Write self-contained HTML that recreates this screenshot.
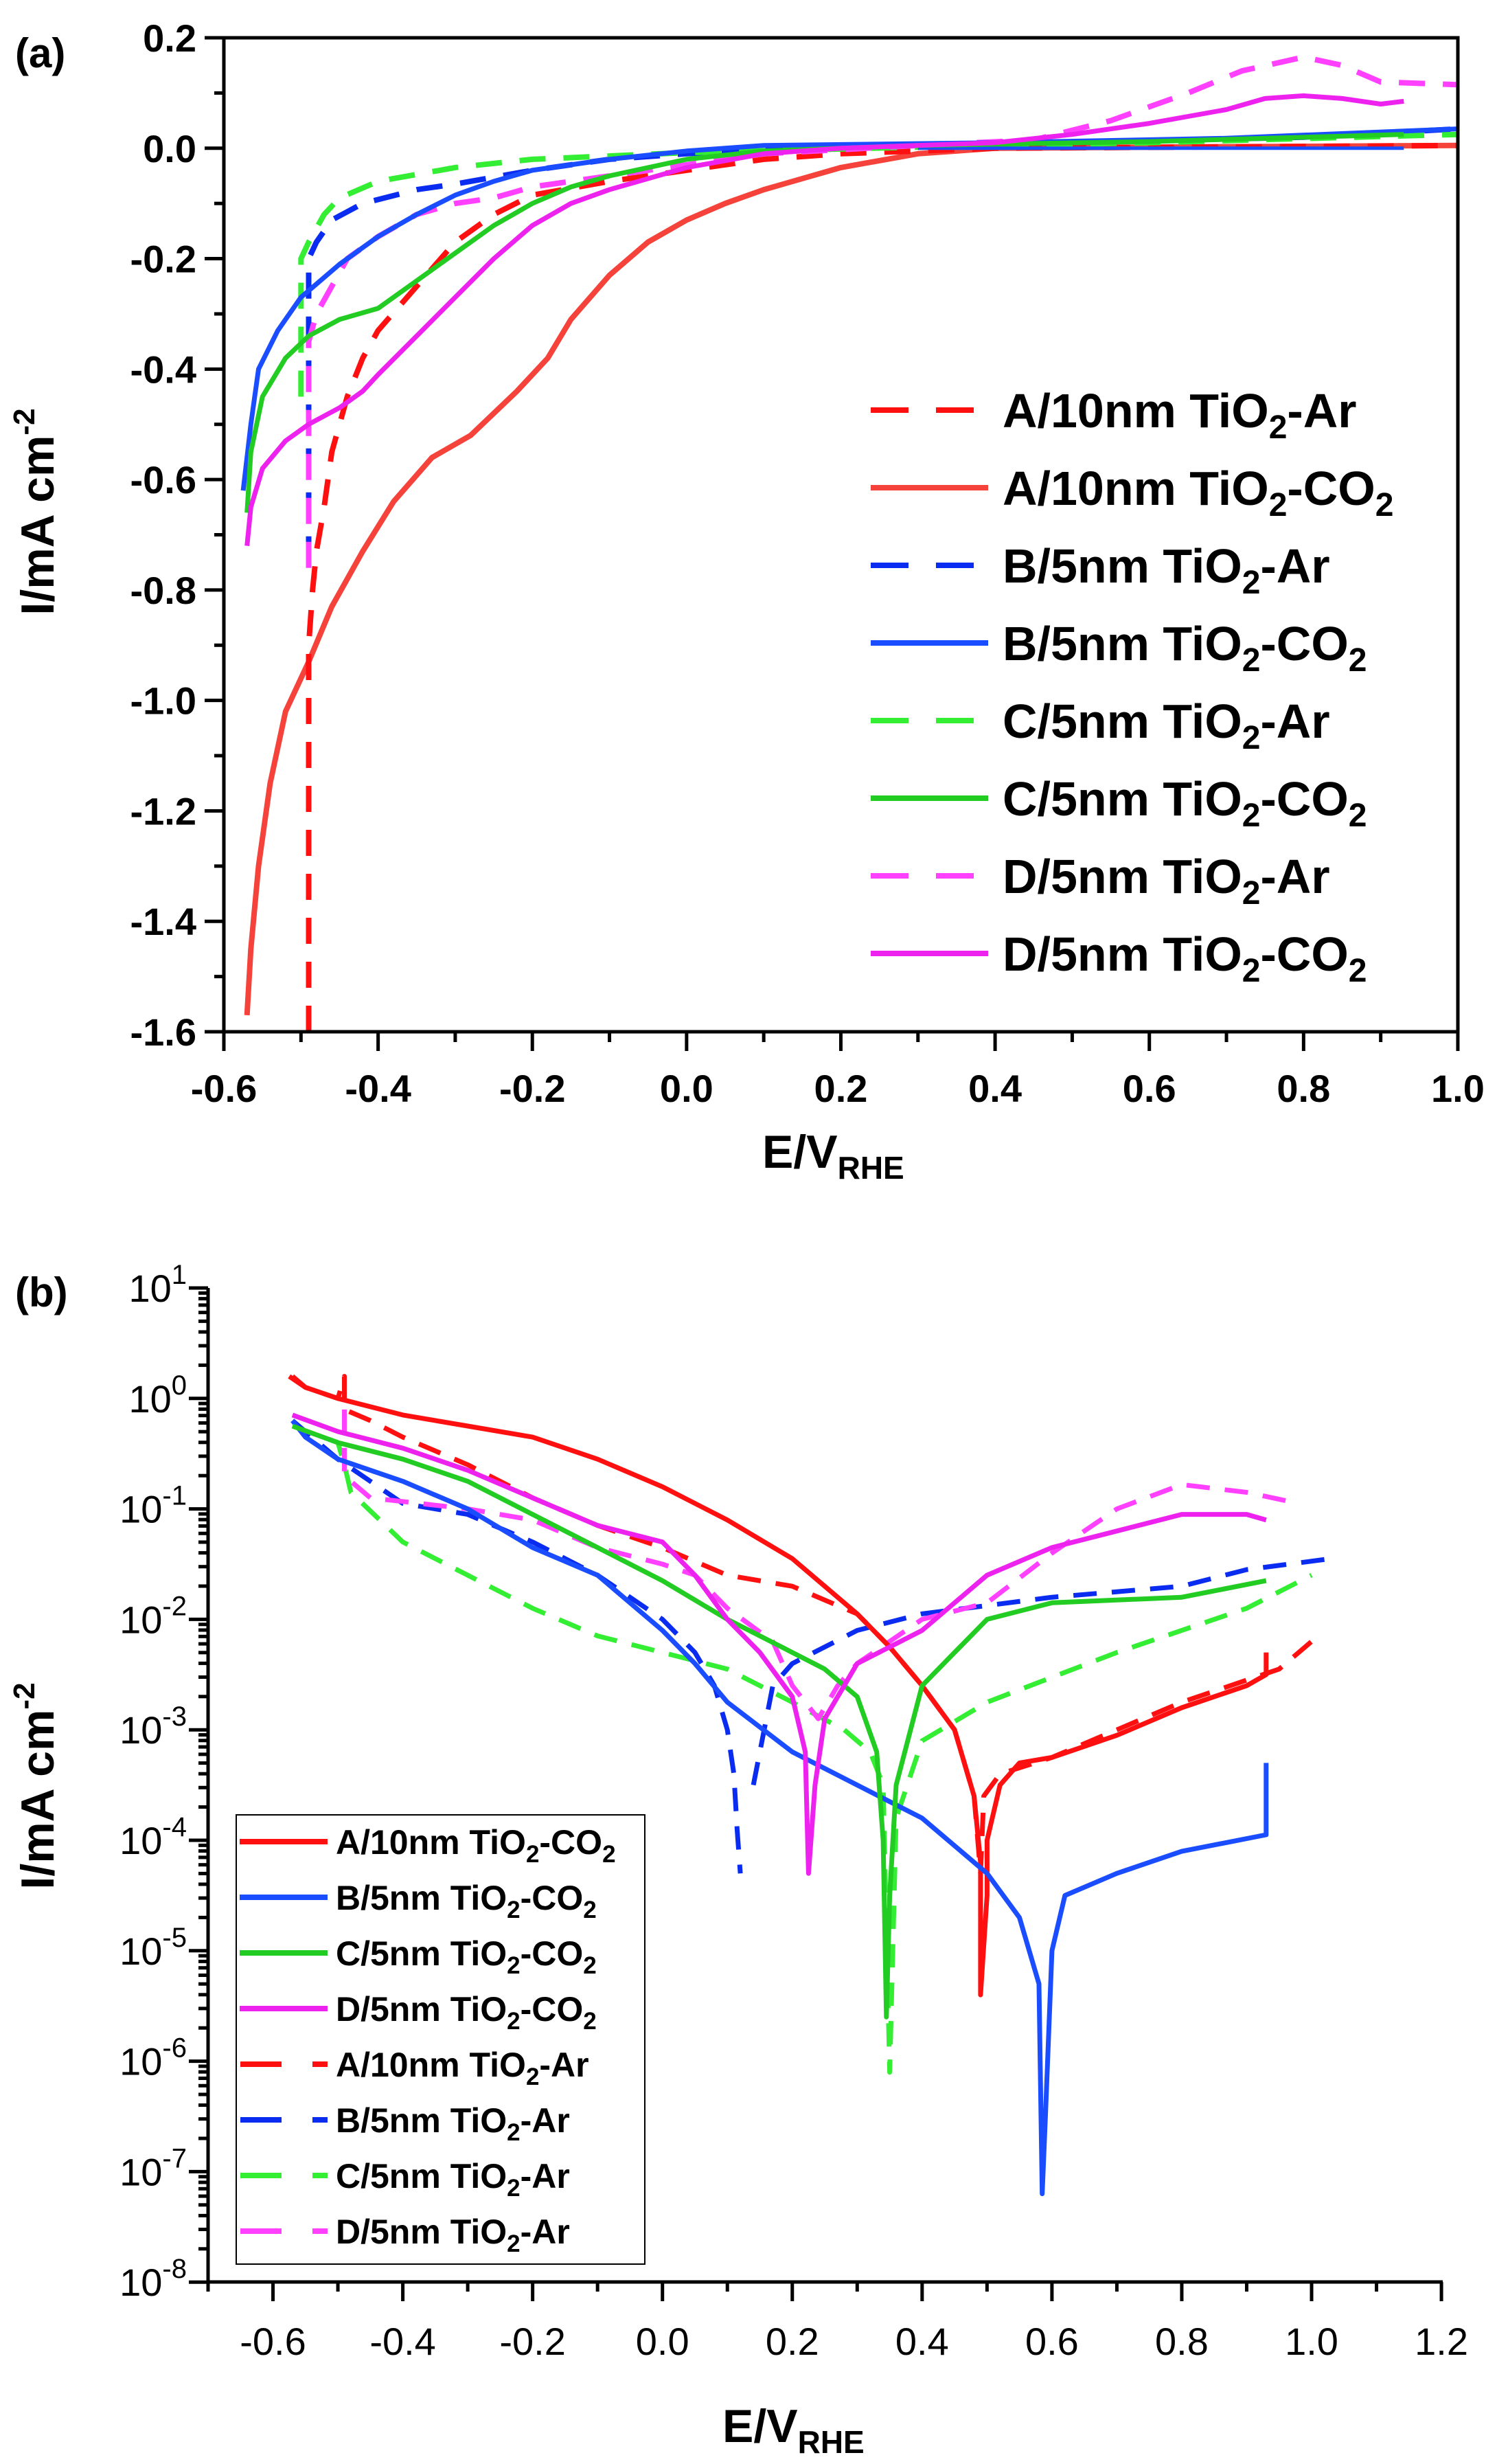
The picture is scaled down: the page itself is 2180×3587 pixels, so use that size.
<!DOCTYPE html>
<html><head><meta charset="utf-8">
<style>
html,body{margin:0;padding:0;background:#fff;}
svg{display:block;}
text{font-family:"Liberation Sans",Arial,sans-serif;fill:#000;}
</style></head>
<body>
<svg id="s" width="2180" height="3587" viewBox="0 0 2180 3587" xmlns="http://www.w3.org/2000/svg">
<text x="22" y="98" font-size="60" font-weight="bold">(a)</text>
<text x="22" y="1902" font-size="60" font-weight="bold">(b)</text>
<text transform="translate(78,745) rotate(-90)" font-size="68" font-weight="bold" text-anchor="middle">I/mA cm<tspan dy="-28" font-size="44">-2</tspan></text>
<text x="1110" y="1700" font-size="68" font-weight="bold">E/V<tspan dy="16" font-size="46">RHE</tspan></text>
<text transform="translate(78,2600) rotate(-90)" font-size="68" font-weight="bold" text-anchor="middle">I/mA cm<tspan dy="-28" font-size="44">-2</tspan></text>
<text x="1052" y="3555" font-size="68" font-weight="bold">E/V<tspan dy="16" font-size="46">RHE</tspan></text>
<g id="g"></g>
</svg>
<script>
var g=document.getElementById('g'),NS='http://www.w3.org/2000/svg',out='';
function ln(x1,y1,x2,y2,w){out+='<line x1="'+x1+'" y1="'+y1+'" x2="'+x2+'" y2="'+y2+'" stroke="#000" stroke-width="'+(w||5)+'"/>';}
function tx(x,y,s,sz,anc,bold){out+='<text x="'+x+'" y="'+y+'" font-size="'+sz+'" text-anchor="'+anc+'"'+(bold?' font-weight="bold"':'')+'>'+s+'</text>';}
// ---- Plot A ----
var AX=function(v){return 326+(v+0.6)*1123.1;},AY=function(i){return 55+(0.2-i)*803.9;};
var A_L=326,A_R=2123,A_T=55,A_B=1502;
function pathA(pts,col,dash,w){var d='';pts.forEach(function(p,k){d+=(k?'L':'M')+AX(p[0]).toFixed(1)+' '+AY(p[1]).toFixed(1);});
out+='<path d="'+d+'" fill="none" stroke="'+col+'" stroke-width="'+(w||8)+'" stroke-linejoin="round"'+(dash?' stroke-dasharray="'+dash+'"':'')+'/>';}
var redS='#f5423a',red='#ff1010',blu='#1a4dff',bluD='#0a2cf0',grn='#22cc22',grnD='#33ee33',mag='#ee22ee',magD='#ff40ff';
var dA='38 26';
pathA([[-0.57,-1.57],[-0.565,-1.45],[-0.555,-1.3],[-0.54,-1.15],[-0.52,-1.02],[-0.49,-0.93],[-0.46,-0.83],[-0.42,-0.73],[-0.38,-0.64],[-0.33,-0.56],[-0.28,-0.52],[-0.22,-0.44],[-0.18,-0.38],[-0.15,-0.31],[-0.1,-0.23],[-0.05,-0.17],[0,-0.13],[0.05,-0.1],[0.1,-0.075],[0.2,-0.035],[0.3,-0.01],[0.4,0],[0.6,0.002],[1.0,0.005]],redS);
pathA([[-0.49,-1.6],[-0.49,-0.9],[-0.485,-0.8],[-0.48,-0.73],[-0.47,-0.65],[-0.46,-0.55],[-0.44,-0.45],[-0.42,-0.38],[-0.4,-0.33],[-0.35,-0.25],[-0.3,-0.17],[-0.25,-0.12],[-0.2,-0.085],[-0.1,-0.06],[0,-0.04],[0.1,-0.02],[0.2,-0.01],[0.4,0],[1.0,0.005]],red,dA);
pathA([[-0.49,-0.75],[-0.49,-0.2],[-0.48,-0.17],[-0.46,-0.13],[-0.42,-0.1],[-0.35,-0.075],[-0.3,-0.065],[-0.2,-0.04],[-0.1,-0.02],[0,-0.01],[0.2,0.005],[0.5,0.01],[0.8,0.02],[1.0,0.035]],bluD,dA);
pathA([[-0.5,-0.45],[-0.5,-0.2],[-0.49,-0.17],[-0.47,-0.12],[-0.45,-0.09],[-0.4,-0.06],[-0.3,-0.035],[-0.2,-0.02],[0,-0.008],[0.3,0.002],[0.6,0.01],[1.0,0.025]],grnD,dA);
pathA([[-0.49,-0.76],[-0.49,-0.35],[-0.48,-0.3],[-0.46,-0.25],[-0.44,-0.2],[-0.4,-0.16],[-0.35,-0.12],[-0.3,-0.1],[-0.25,-0.09],[-0.2,-0.07],[-0.1,-0.05],[0,-0.03],[0.1,-0.01],[0.3,0.005],[0.45,0.015],[0.55,0.05],[0.65,0.1],[0.72,0.14],[0.8,0.165],[0.85,0.15],[0.9,0.12],[1.0,0.115]],magD,dA);
pathA([[-0.575,-0.62],[-0.565,-0.5],[-0.555,-0.4],[-0.53,-0.33],[-0.5,-0.27],[-0.45,-0.21],[-0.4,-0.16],[-0.35,-0.12],[-0.3,-0.085],[-0.25,-0.06],[-0.2,-0.04],[-0.1,-0.02],[0,-0.005],[0.1,0.005],[0.4,0.01],[0.7,0.018],[1.0,0.035]],blu,null,7);
pathA([[0.3,0.0],[0.93,0.0]],blu,null,5);
pathA([[-0.57,-0.66],[-0.565,-0.55],[-0.55,-0.45],[-0.52,-0.38],[-0.49,-0.34],[-0.45,-0.31],[-0.4,-0.29],[-0.35,-0.24],[-0.3,-0.19],[-0.25,-0.14],[-0.2,-0.1],[-0.15,-0.07],[-0.1,-0.05],[0,-0.02],[0.1,-0.005],[0.3,0.005],[0.6,0.012],[0.93,0.025]],grn,null,7);
pathA([[-0.57,-0.72],[-0.565,-0.65],[-0.55,-0.58],[-0.52,-0.53],[-0.49,-0.5],[-0.45,-0.47],[-0.42,-0.44],[-0.4,-0.41],[-0.35,-0.34],[-0.3,-0.27],[-0.25,-0.2],[-0.2,-0.14],[-0.15,-0.1],[-0.1,-0.075],[-0.05,-0.055],[0,-0.035],[0.1,-0.01],[0.2,0],[0.4,0.01],[0.5,0.025],[0.6,0.045],[0.7,0.07],[0.75,0.09],[0.8,0.095],[0.85,0.09],[0.9,0.08],[0.93,0.085]],mag,null,7);
// frame A
out+='<rect x="'+A_L+'" y="'+A_T+'" width="'+(A_R-A_L)+'" height="'+(A_B-A_T)+'" fill="none" stroke="#000" stroke-width="5"/>';
for(var k=0;k<=18;k++){var v=0.2-k*0.1,y=AY(v);ln(A_L-(k%2?14:28),y,A_L,y);
 if(k%2==0){var s=(Math.abs(v)<1e-9?'0.0':v.toFixed(1));tx(286,y+20,s,56,'end',true);}}
for(var k=0;k<=16;k++){var v=-0.6+k*0.1,x=AX(v);ln(x,A_B,x,A_B+(k%2?15:28));
 if(k%2==0){var s=(Math.abs(v)<1e-9?'0.0':v.toFixed(1));tx(x,1604,s,56,'middle',true);}}
// legend A
var legA=[['A/10nm TiO','-Ar',red,dA],['A/10nm TiO','-CO',redS,null],['B/5nm TiO','-Ar',bluD,dA],['B/5nm TiO','-CO',blu,null],['C/5nm TiO','-Ar',grnD,dA],['C/5nm TiO','-CO',grn,null],['D/5nm TiO','-Ar',magD,dA],['D/5nm TiO','-CO',mag,null]];
legA.forEach(function(e,k){var y=597+k*113;
 out+='<line x1="1268" y1="'+y+'" x2="1439" y2="'+y+'" stroke="'+e[2]+'" stroke-width="8"'+(e[3]?' stroke-dasharray="55 40"':'')+'/>';
 out+='<text x="1460" y="'+(y+25)+'" font-size="70" font-weight="bold">'+e[0]+'<tspan dy="16" font-size="48">2</tspan><tspan dy="-16">'+e[1]+'</tspan>'+(e[1]=='-CO'?'<tspan dy="16" font-size="48">2</tspan>':'')+'</text>';});
// ---- Plot B ----
var BX=function(v){return 303+(v+0.7)*945.3;},BY=function(l){return 1875+(1-l)*160.8;};
var B_L=303,B_R=2099,B_T=1875,B_B=3322;
function pathB(pts,col,dash,w){var d='';pts.forEach(function(p,k){d+=(k?'L':'M')+BX(p[0]).toFixed(1)+' '+BY(p[1]).toFixed(1);});
out+='<path d="'+d+'" fill="none" stroke="'+col+'" stroke-width="'+(w||7)+'" stroke-linejoin="round"'+(dash?' stroke-dasharray="'+dash+'"':'')+'/>';}
var dB='34 22';
pathB([[-0.575,0.2],[-0.55,0.1],[-0.5,0],[-0.49,0.2],[-0.49,-0.1],[-0.45,-0.2],[-0.4,-0.35],[-0.3,-0.6],[-0.2,-0.9],[-0.1,-1.15],[0,-1.35],[0.1,-1.6],[0.2,-1.7],[0.3,-1.95],[0.35,-2.25],[0.4,-2.6],[0.45,-3.0],[0.48,-3.6],[0.49,-4.3],[0.495,-3.6],[0.52,-3.4],[0.6,-3.25],[0.8,-2.75],[0.95,-2.45],[1.0,-2.2],[1.0,-2.3]],red,dB);
pathB([[-0.57,-0.2],[-0.5,-0.55],[-0.45,-0.75],[-0.4,-0.95],[-0.3,-1.05],[-0.2,-1.3],[-0.1,-1.6],[0,-2.0],[0.05,-2.3],[0.08,-2.6],[0.1,-3.0],[0.11,-3.4],[0.115,-3.9],[0.12,-4.3]],bluD,dB);
pathB([[0.14,-3.5],[0.17,-2.6],[0.2,-2.4],[0.3,-2.1],[0.4,-1.95],[0.6,-1.8],[0.8,-1.7],[0.9,-1.55],[1.03,-1.45]],bluD,dB);
pathB([[-0.57,-0.25],[-0.5,-0.4],[-0.49,-0.6],[-0.48,-0.85],[-0.4,-1.3],[-0.3,-1.6],[-0.2,-1.9],[-0.1,-2.15],[0,-2.3],[0.1,-2.45],[0.2,-2.75],[0.28,-3.0],[0.32,-3.2],[0.34,-3.5],[0.35,-6.1],[0.36,-3.8],[0.4,-3.1],[0.5,-2.75],[0.7,-2.3],[0.9,-1.9],[1.0,-1.6]],grnD,dB);
pathB([[-0.49,-0.1],[-0.49,-0.7],[-0.45,-0.9],[-0.3,-1.0],[-0.2,-1.1],[-0.1,-1.35],[0,-1.5],[0.05,-1.6],[0.1,-1.9],[0.17,-2.2],[0.2,-2.6],[0.24,-2.9],[0.27,-2.6],[0.3,-2.4],[0.4,-2.0],[0.5,-1.85],[0.6,-1.4],[0.7,-1.0],[0.8,-0.78],[0.9,-0.85],[0.98,-0.95]],magD,dB);
pathB([[-0.57,0.2],[-0.55,0.1],[-0.5,0],[-0.4,-0.15],[-0.3,-0.25],[-0.2,-0.35],[-0.1,-0.55],[0,-0.8],[0.1,-1.1],[0.2,-1.45],[0.3,-1.95],[0.35,-2.25],[0.4,-2.6],[0.45,-3.0],[0.48,-3.6],[0.49,-4.2],[0.49,-5.4],[0.5,-4.5],[0.5,-4.0],[0.52,-3.5],[0.55,-3.3],[0.6,-3.25],[0.7,-3.05],[0.8,-2.8],[0.9,-2.6],[0.93,-2.5],[0.93,-2.3]],red);
pathB([[-0.57,-0.2],[-0.55,-0.35],[-0.5,-0.55],[-0.4,-0.75],[-0.3,-1.0],[-0.2,-1.35],[-0.1,-1.6],[0,-2.1],[0.05,-2.4],[0.1,-2.75],[0.2,-3.2],[0.3,-3.5],[0.4,-3.8],[0.5,-4.3],[0.55,-4.7],[0.58,-5.3],[0.585,-7.2],[0.59,-6.5],[0.6,-5.0],[0.62,-4.5],[0.7,-4.3],[0.8,-4.1],[0.93,-3.95],[0.93,-3.3]],blu);
pathB([[-0.57,-0.25],[-0.5,-0.4],[-0.4,-0.55],[-0.3,-0.75],[-0.2,-1.05],[-0.1,-1.35],[0,-1.65],[0.1,-2.0],[0.2,-2.3],[0.25,-2.45],[0.3,-2.7],[0.33,-3.2],[0.34,-4.0],[0.345,-5.6],[0.35,-4.5],[0.36,-3.5],[0.4,-2.6],[0.45,-2.3],[0.5,-2.0],[0.6,-1.85],[0.8,-1.8],[0.93,-1.65]],grn);
pathB([[-0.57,-0.15],[-0.5,-0.3],[-0.4,-0.45],[-0.3,-0.65],[-0.2,-0.9],[-0.1,-1.15],[0,-1.3],[0.05,-1.6],[0.1,-2.0],[0.15,-2.3],[0.2,-2.7],[0.22,-3.2],[0.225,-4.3],[0.235,-3.5],[0.25,-2.9],[0.3,-2.4],[0.4,-2.1],[0.5,-1.6],[0.6,-1.35],[0.7,-1.2],[0.8,-1.05],[0.9,-1.05],[0.93,-1.1]],mag);
// axes B
ln(B_L,B_T,B_L,B_B);ln(B_L-2,B_B,B_R+2,B_B);
for(var d=1;d>=-8;d--){var y=BY(d);ln(B_L-28,y,B_L,y);
 out+='<text x="272" y="'+(y+20)+'" font-size="56" text-anchor="end">10<tspan dy="-26" font-size="40">'+d+'</tspan></text>';
 if(d>-8)for(var m=2;m<=9;m++){var yy=BY(d-1+Math.log10(m));ln(B_L-14,yy,B_L,yy);}}
for(var k=0;k<=19;k++){var v=-0.7+k*0.1,x=BX(v),maj=(k%2==1);ln(x,B_B,x,B_B+(maj?28:14));
 if(maj){var s=(Math.abs(v)<1e-9?'0.0':v.toFixed(1));tx(x,3428,s,56,'middle',false);}}
// legend B
out+='<rect x="344" y="2642" width="595" height="654" fill="#fff" stroke="#000" stroke-width="2"/>';
var legB=[['A/10nm TiO','-CO',red,null],['B/5nm TiO','-CO',blu,null],['C/5nm TiO','-CO',grn,null],['D/5nm TiO','-CO',mag,null],['A/10nm TiO','-Ar',red,1],['B/5nm TiO','-Ar',bluD,1],['C/5nm TiO','-Ar',grnD,1],['D/5nm TiO','-Ar',magD,1]];
legB.forEach(function(e,k){var y=2681+k*81;
 if(e[3]){out+='<line x1="350" y1="'+y+'" x2="410" y2="'+y+'" stroke="'+e[2]+'" stroke-width="8"/><line x1="455" y1="'+y+'" x2="477" y2="'+y+'" stroke="'+e[2]+'" stroke-width="8"/>';}
 else out+='<line x1="349" y1="'+y+'" x2="477" y2="'+y+'" stroke="'+e[2]+'" stroke-width="8"/>';
 out+='<text x="489" y="'+(y+18)+'" font-size="50" font-weight="bold">'+e[0]+'<tspan dy="12" font-size="35">2</tspan><tspan dy="-12">'+e[1]+'</tspan>'+(e[1]=='-CO'?'<tspan dy="12" font-size="35">2</tspan>':'')+'</text>';});
g.innerHTML=out;
</script>
</body></html>
